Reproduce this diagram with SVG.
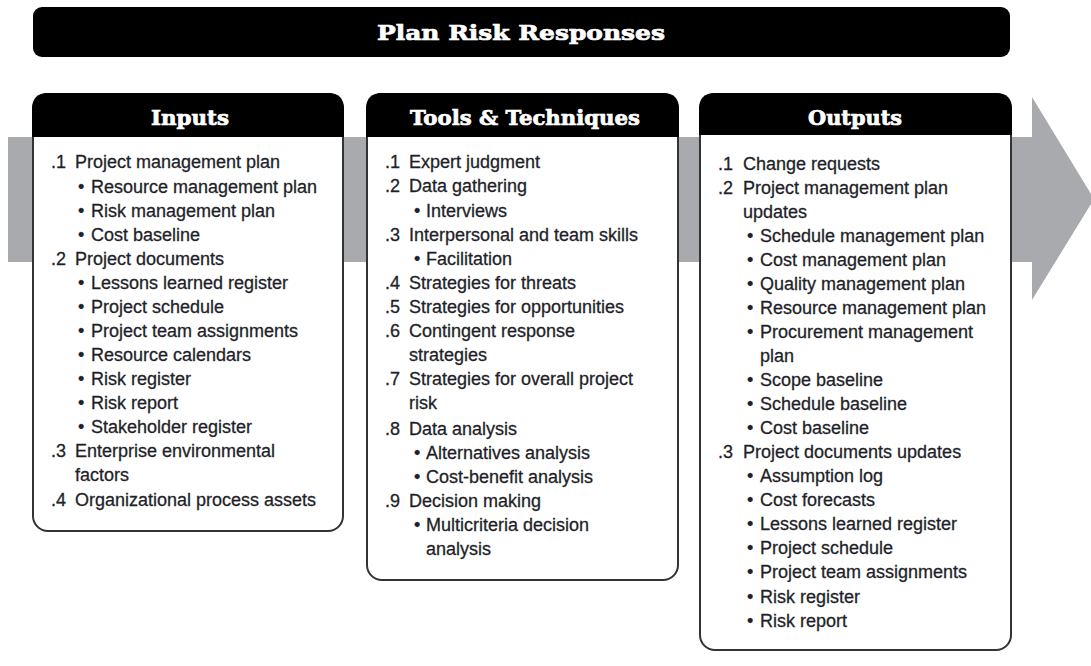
<svg xmlns="http://www.w3.org/2000/svg" width="1091" height="666" viewBox="0 0 1091 666">
<style>
.hdr{font-family:"DejaVu Serif","Liberation Serif",serif;font-weight:bold;fill:#fff;stroke:#fff;stroke-width:0.7;text-anchor:middle}
.t{font-family:"Liberation Sans",Arial,sans-serif;font-size:18px;fill:#1f1f2a;stroke:#1f1f2a;stroke-width:0.3}
.box{fill:#fff;stroke:#333;stroke-width:2}
.hb{fill:#000}
</style>
<rect width="1091" height="666" fill="#fff"/>
<g id="flow-arrow">
<polygon points="8,137 1032,137 1032,97 1094,199 1032,300 1032,262 8,262" fill="#a8aaad"/>
</g>
<g id="title">
<rect x="33" y="7" width="977" height="50" rx="9" fill="#000"/>
<text class="hdr" x="521" y="40" font-size="21" textLength="288" lengthAdjust="spacingAndGlyphs">Plan Risk Responses</text>
</g>
<g id="inputs">
<rect class="box" x="33" y="94" width="310" height="437" rx="15"/>
<path class="hb" d="M32,137 V109 Q32,93 48,93 H328 Q344,93 344,109 V137 Z"/>
<text class="hdr" x="190" y="125" font-size="20" textLength="78" lengthAdjust="spacingAndGlyphs">Inputs</text>
<g class="t">
<text x="51" y="168">.1</text><text x="75" y="168">Project management plan</text>
<text x="78" y="193">•</text><text x="91" y="193">Resource management plan</text>
<text x="78" y="217">•</text><text x="91" y="217">Risk management plan</text>
<text x="78" y="241">•</text><text x="91" y="241">Cost baseline</text>
<text x="51" y="265">.2</text><text x="75" y="265">Project documents</text>
<text x="78" y="289">•</text><text x="91" y="289">Lessons learned register</text>
<text x="78" y="313">•</text><text x="91" y="313">Project schedule</text>
<text x="78" y="337">•</text><text x="91" y="337">Project team assignments</text>
<text x="78" y="361">•</text><text x="91" y="361">Resource calendars</text>
<text x="78" y="385">•</text><text x="91" y="385">Risk register</text>
<text x="78" y="409">•</text><text x="91" y="409">Risk report</text>
<text x="78" y="433">•</text><text x="91" y="433">Stakeholder register</text>
<text x="51" y="457">.3</text><text x="75" y="457">Enterprise environmental</text>
<text x="75" y="481">factors</text>
<text x="51" y="506">.4</text><text x="75" y="506">Organizational process assets</text>
</g>
</g>
<g id="tools">
<rect class="box" x="367" y="94" width="311" height="486" rx="15"/>
<path class="hb" d="M366,137 V109 Q366,93 382,93 H663 Q679,93 679,109 V137 Z"/>
<text class="hdr" x="525" y="125" font-size="20" textLength="230" lengthAdjust="spacingAndGlyphs">Tools &amp; Techniques</text>
<g class="t">
<text x="385" y="168">.1</text><text x="409" y="168">Expert judgment</text>
<text x="385" y="192">.2</text><text x="409" y="192">Data gathering</text>
<text x="414" y="217">•</text><text x="426" y="217">Interviews</text>
<text x="385" y="241">.3</text><text x="409" y="241">Interpersonal and team skills</text>
<text x="414" y="265">•</text><text x="426" y="265">Facilitation</text>
<text x="385" y="289">.4</text><text x="409" y="289">Strategies for threats</text>
<text x="385" y="313">.5</text><text x="409" y="313">Strategies for opportunities</text>
<text x="385" y="337">.6</text><text x="409" y="337">Contingent response</text>
<text x="409" y="361">strategies</text>
<text x="385" y="385">.7</text><text x="409" y="385">Strategies for overall project</text>
<text x="409" y="409">risk</text>
<text x="385" y="435">.8</text><text x="409" y="435">Data analysis</text>
<text x="414" y="459">•</text><text x="426" y="459">Alternatives analysis</text>
<text x="414" y="483">•</text><text x="426" y="483">Cost-benefit analysis</text>
<text x="385" y="507">.9</text><text x="409" y="507">Decision making</text>
<text x="414" y="531">•</text><text x="426" y="531">Multicriteria decision</text>
<text x="426" y="555">analysis</text>
</g>
</g>
<g id="outputs">
<rect class="box" x="700" y="94" width="311" height="556" rx="15"/>
<path class="hb" d="M699,135 V109 Q699,93 715,93 H996 Q1012,93 1012,109 V135 Z"/>
<text class="hdr" x="855" y="125" font-size="20" textLength="94" lengthAdjust="spacingAndGlyphs">Outputs</text>
<g class="t">
<text x="718" y="170">.1</text><text x="743" y="170">Change requests</text>
<text x="718" y="194">.2</text><text x="743" y="194">Project management plan</text>
<text x="743" y="218">updates</text>
<text x="747" y="242">•</text><text x="760" y="242">Schedule management plan</text>
<text x="747" y="266">•</text><text x="760" y="266">Cost management plan</text>
<text x="747" y="290">•</text><text x="760" y="290">Quality management plan</text>
<text x="747" y="314">•</text><text x="760" y="314">Resource management plan</text>
<text x="747" y="338">•</text><text x="760" y="338">Procurement management</text>
<text x="760" y="362">plan</text>
<text x="747" y="386">•</text><text x="760" y="386">Scope baseline</text>
<text x="747" y="410">•</text><text x="760" y="410">Schedule baseline</text>
<text x="747" y="434">•</text><text x="760" y="434">Cost baseline</text>
<text x="718" y="458">.3</text><text x="743" y="458">Project documents updates</text>
<text x="747" y="482">•</text><text x="760" y="482">Assumption log</text>
<text x="747" y="506">•</text><text x="760" y="506">Cost forecasts</text>
<text x="747" y="530">•</text><text x="760" y="530">Lessons learned register</text>
<text x="747" y="554">•</text><text x="760" y="554">Project schedule</text>
<text x="747" y="578">•</text><text x="760" y="578">Project team assignments</text>
<text x="747" y="603">•</text><text x="760" y="603">Risk register</text>
<text x="747" y="627">•</text><text x="760" y="627">Risk report</text>
</g>
</g>
</svg>
